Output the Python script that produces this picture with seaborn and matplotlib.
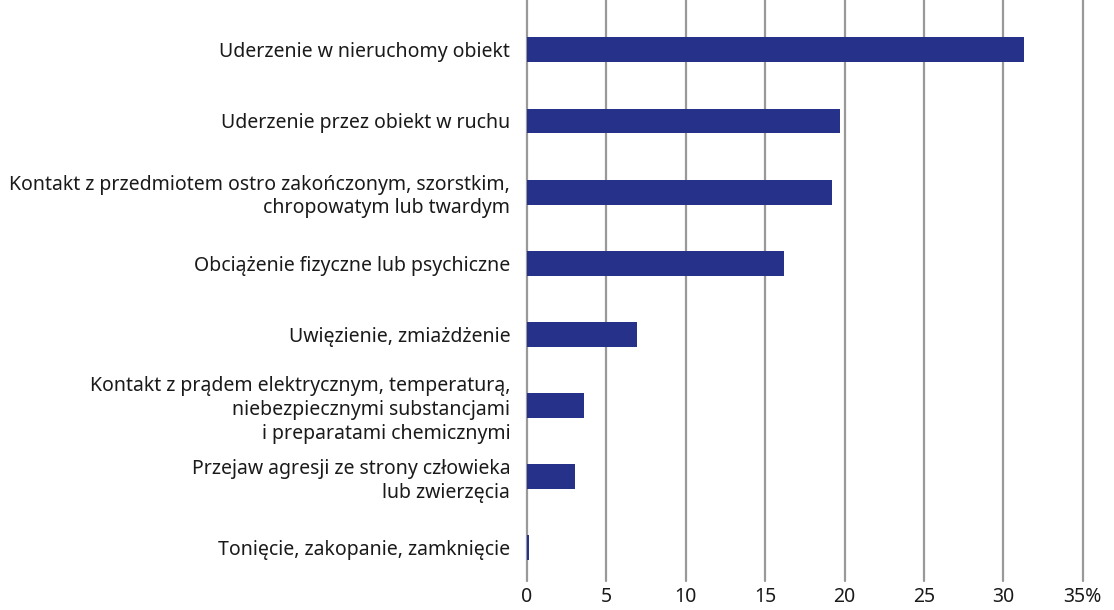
import matplotlib
matplotlib.use('Agg')
import matplotlib.pyplot as plt
from matplotlib.ticker import FuncFormatter
import pandas as pd
import seaborn as sns

categories = [
    'Uderzenie w nieruchomy obiekt',
    'Uderzenie przez obiekt w ruchu',
    'Kontakt z przedmiotem ostro zakończonym, szorstkim,\nchropowatym lub twardym',
    'Obciążenie fizyczne lub psychiczne',
    'Uwięzienie, zmiażdżenie',
    'Kontakt z prądem elektrycznym, temperaturą,\nniebezpiecznymi substancjami\ni preparatami chemicznymi',
    'Przejaw agresji ze strony człowieka\nlub zwierzęcia',
    'Tonięcie, zakopanie, zamknięcie',
]
values = [31.3, 19.7, 19.2, 16.2, 6.9, 3.6, 3.0, 0.1]
ticks = [0, 5, 10, 15, 20, 25, 30, 35]

sns.set_style('white')
plt.rcParams['font.family'] = ['Noto Sans', 'DejaVu Sans']

df = pd.DataFrame({'kategoria': categories, 'wartosc': values})

fig = plt.figure(figsize=(11.14, 6.10), dpi=100)
ax = fig.add_axes([0.473, 0.047, 0.499, 0.953])

sns.barplot(data=df, x='wartosc', y='kategoria', orient='h', color='#263189',
            width=0.35, saturation=1, linewidth=0, ax=ax, zorder=3)

ax.set_xlim(0, 35)
ax.set_ylim(7.47, -0.70)
ax.set_xticks(ticks)
ax.xaxis.set_major_formatter(FuncFormatter(lambda v, p: f'{int(v)}%' if v == 35 else f'{int(v)}'))
ax.grid(axis='x', color='#999999', linewidth=1.6, zorder=0)
for gl in ax.get_xgridlines():
    gl.set_clip_on(False)
ax.set_axisbelow(True)
for s in ax.spines.values():
    s.set_visible(False)
ax.tick_params(axis='both', length=0, labelsize=14, labelcolor='#1a1a1a')
ax.tick_params(axis='y', pad=12)
ax.tick_params(axis='x', pad=4)
for lab in ax.get_yticklabels():
    lab.set_linespacing(1.25)
ax.set_xlabel('')
ax.set_ylabel('')

fig.savefig('out.png', dpi=100)
